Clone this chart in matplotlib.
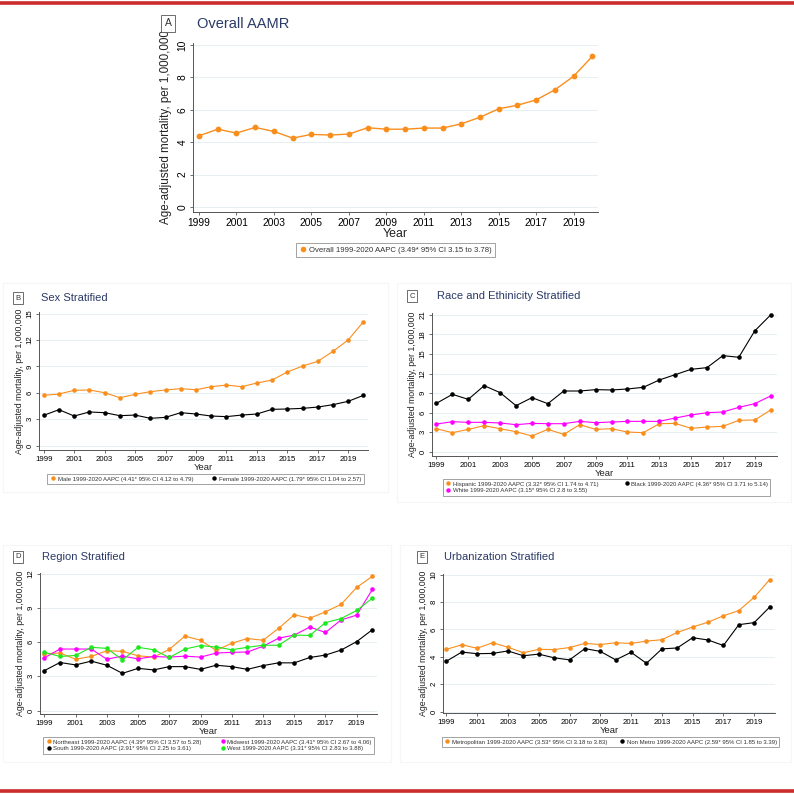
import numpy as np
import matplotlib.pyplot as plt
from matplotlib.patches import Rectangle
from matplotlib.lines import Line2D

plt.rcParams['font.family'] = ['Liberation Sans', 'DejaVu Sans']

years = np.arange(1999, 2021)

overall = [4.39, 4.80, 4.56, 4.91, 4.66, 4.25, 4.48, 4.44, 4.50, 4.89, 4.80,
           4.80, 4.87, 4.87, 5.13, 5.54, 6.06, 6.28, 6.61, 7.23, 8.07, 9.30]

male = [5.72, 5.87, 6.29, 6.33, 6.02, 5.45, 5.83, 6.14, 6.33, 6.48, 6.36,
        6.70, 6.89, 6.70, 7.12, 7.46, 8.37, 9.05, 9.58, 10.72, 12.01, 14.09]
female = [3.45, 4.09, 3.37, 3.83, 3.75, 3.41, 3.48, 3.11, 3.22, 3.75, 3.60,
          3.37, 3.30, 3.48, 3.60, 4.13, 4.17, 4.24, 4.39, 4.66, 5.04, 5.72]

hispanic = [3.53, 2.92, 3.43, 4.00, 3.53, 3.07, 2.41, 3.43, 2.66, 4.15, 3.43,
            3.53, 3.02, 2.92, 4.30, 4.35, 3.59, 3.79, 3.89, 4.82, 4.87, 6.40]
black = [7.43, 8.81, 8.04, 10.14, 9.07, 7.07, 8.30, 7.38, 9.32, 9.32, 9.53,
         9.48, 9.63, 9.89, 11.01, 11.83, 12.65, 12.91, 14.75, 14.50, 18.55, 21.0]
white = [4.25, 4.61, 4.51, 4.51, 4.41, 4.15, 4.35, 4.30, 4.30, 4.66, 4.46,
         4.56, 4.66, 4.66, 4.66, 5.17, 5.64, 5.99, 6.10, 6.81, 7.38, 8.56]

northeast = [4.98, 5.04, 4.50, 4.74, 5.24, 5.19, 4.80, 4.68, 5.36, 6.52, 6.16,
             5.27, 5.90, 6.31, 6.16, 7.20, 8.39, 8.09, 8.65, 9.30, 10.79, 11.76]
midwest = [4.62, 5.39, 5.39, 5.39, 4.50, 4.77, 4.53, 4.74, 4.68, 4.77, 4.68,
           5.04, 5.10, 5.13, 5.63, 6.34, 6.61, 7.32, 6.84, 7.94, 8.36, 10.61]
south = [3.50, 4.21, 4.00, 4.33, 3.97, 3.26, 3.70, 3.56, 3.85, 3.85, 3.61,
         3.97, 3.85, 3.61, 3.94, 4.18, 4.18, 4.65, 4.86, 5.30, 6.04, 7.08]
west = [5.10, 4.74, 4.83, 5.54, 5.45, 4.44, 5.54, 5.33, 4.65, 5.39, 5.69,
        5.57, 5.33, 5.54, 5.72, 5.72, 6.61, 6.58, 7.70, 8.06, 8.77, 9.84]

metro = [4.55, 4.88, 4.63, 5.03, 4.70, 4.30, 4.55, 4.53, 4.68, 4.98, 4.90,
         5.03, 4.98, 5.15, 5.25, 5.78, 6.18, 6.53, 7.00, 7.38, 8.35, 9.63]
nonmetro = [3.68, 4.35, 4.23, 4.25, 4.43, 4.08, 4.20, 3.93, 3.78, 4.60, 4.40,
            3.78, 4.33, 3.53, 4.58, 4.65, 5.40, 5.23, 4.83, 6.35, 6.50, 7.63]

ORANGE = '#F98E1D'
MAGENTA = '#FF00FF'
GREEN = '#1EE81E'
BLACK = '#000000'
NAVY = '#2B3A67'

W = H = 794.0
fig = plt.figure(figsize=(7.94, 7.94), dpi=100)


def fx(x):
    return x / W


def fy(y):
    return 1 - y / H


def make_axes(l, r, t, b):
    return fig.add_axes([fx(l), fy(b), fx(r) - fx(l), fy(t) - fy(b)])


def style(ax, yticks, ylim, xlim, tick_fs, lab_fs, ypad):
    ax.set_xlim(*xlim)
    ax.set_ylim(*ylim)
    ax.set_yticks(yticks)
    ax.set_xticks(np.arange(1999, 2021, 2))
    for s in ['top', 'right']:
        ax.spines[s].set_visible(False)
    for s in ['left', 'bottom']:
        ax.spines[s].set_color('#555555')
        ax.spines[s].set_linewidth(0.7)
    ax.grid(axis='y', color='#E6EFF1', linewidth=0.7)
    ax.set_axisbelow(True)
    ax.tick_params(axis='both', labelsize=tick_fs, length=2.5, width=0.6,
                   color='#555555', pad=1.5)
    plt.setp(ax.get_yticklabels(), rotation=90, va='center')
    ax.set_ylabel('Age-adjusted mortality, per 1,000,000', fontsize=lab_fs,
                  labelpad=ypad, color='#222222')
    ax.set_xlabel('Year', fontsize=lab_fs + 0.5, labelpad=0, color='#222222')


def header(letter, bx, by, fs):
    fig.text(fx(bx), fy(by), letter, fontsize=fs, va='center', ha='center',
             color='#333333',
             bbox=dict(boxstyle='square,pad=0.35', fc='white', ec='#555555', lw=0.6))


def title(text, tx, ty, fs):
    fig.text(fx(tx), fy(ty), text, fontsize=fs, va='center', ha='left', color=NAVY)


def plot_series(ax, data, color, ms, lw):
    ax.plot(years, data, color=color, lw=lw, marker='o', ms=ms,
            markeredgewidth=0, zorder=3)


def legend(ax, entries, cx, top, ncol, fs, ms, colsp):
    handles = [Line2D([], [], ls='none', marker='o', color=c, ms=ms,
                      markeredgewidth=0) for _, c in entries]
    labels = [t for t, _ in entries]
    leg = ax.legend(handles, labels, loc='upper center',
                    bbox_to_anchor=(fx(cx), fy(top)),
                    bbox_transform=fig.transFigure, ncol=ncol,
                    fontsize=fs, frameon=True, fancybox=False, borderpad=0.4,
                    handletextpad=0.2, handlelength=1.1, labelspacing=0.25,
                    columnspacing=colsp, borderaxespad=0)
    leg.get_frame().set_edgecolor('#777777')
    leg.get_frame().set_linewidth(0.6)
    for txt in leg.get_texts():
        txt.set_color('#333333')


# red rules top and bottom
fig.add_artist(Line2D([0, 1], [fy(2.5), fy(2.5)], color='#CC2B2B', lw=2.6))
fig.add_artist(Line2D([0, 1], [fy(791), fy(791)], color='#CC2B2B', lw=2.6))

# faint panel frames
for (l, t, r, b) in [(3, 283, 388, 492), (397, 283, 791, 502),
                     (3, 545, 391, 762), (400, 545, 791, 762)]:
    fig.add_artist(Rectangle((fx(l), fy(b)), fx(r) - fx(l), fy(t) - fy(b),
                             transform=fig.transFigure, fill=False,
                             ec='#F6F6F6', lw=0.8))

# Panel A
axA = make_axes(193, 598, 43, 212)
plot_series(axA, overall, ORANGE, 4.2, 1.0)
style(axA, [0, 2, 4, 6, 8, 10], (-0.31, 10.12), (1998.68, 2020.3), 7.4, 8.4, 4)
header('A', 168, 23.5, 7.5)
title('Overall AAMR', 197, 24.5, 10.5)
legend(axA, [('Overall 1999-2020 AAPC (3.49* 95% CI 3.15 to 3.78)', ORANGE)],
       395.5, 243, 1, 5.6, 4, 1.0)

# Panel B
axB = make_axes(39, 368, 312, 450)
plot_series(axB, male, ORANGE, 3.3, 0.8)
plot_series(axB, female, BLACK, 3.3, 0.8)
style(axB, [0, 3, 6, 9, 12, 15], (-0.49, 15.19), (1998.69, 2020.3), 5.6, 6.3, 2)
header('B', 18, 298, 5.5)
title('Sex Stratified', 41, 298, 8)
legend(axB, [('Male 1999-2020 AAPC (4.41* 95% CI 4.12 to 4.79)', ORANGE),
             ('Female 1999-2020 AAPC (1.79* 95% CI 1.04 to 2.57)', BLACK)],
       205.5, 474, 2, 4.3, 3.2, 3.0)

# Panel C
axC = make_axes(432, 777, 313, 456)
plot_series(axC, hispanic, ORANGE, 3.3, 0.8)
plot_series(axC, black, BLACK, 3.3, 0.8)
plot_series(axC, white, MAGENTA, 3.3, 0.8)
style(axC, [0, 3, 6, 9, 12, 15, 18, 21], (-0.66, 21.3), (1998.72, 2020.4), 5.6, 6.3, 2)
header('C', 412, 296, 5.5)
title('Race and Ethinicity Stratified', 437, 296, 8)
legend(axC, [('Hispanic 1999-2020 AAPC (3.32* 95% CI 1.74 to 4.71)', ORANGE),
             ('White 1999-2020 AAPC (3.15* 95% CI 2.8 to 3.55)', MAGENTA),
             ('Black 1999-2020 AAPC (4.36* 95% CI 3.71 to 5.14)', BLACK)],
       606.5, 479, 2, 4.3, 3.2, 4.2)

# Panel D
axD = make_axes(40, 377, 573, 714)
plot_series(axD, northeast, ORANGE, 3.3, 0.8)
plot_series(axD, midwest, MAGENTA, 3.3, 0.8)
plot_series(axD, west, GREEN, 3.3, 0.8)
plot_series(axD, south, BLACK, 3.3, 0.8)
style(axD, [0, 3, 6, 9, 12], (-0.3, 12.05), (1998.72, 2020.3), 5.6, 6.3, 2)
header('D', 18, 557, 5.5)
title('Region Stratified', 42, 557, 8)
legend(axD, [('Northeast 1999-2020 AAPC (4.39* 95% CI 3.57 to 5.28)', ORANGE),
             ('South 1999-2020 AAPC (2.91* 95% CI 2.25 to 3.61)', BLACK),
             ('Midwest 1999-2020 AAPC (3.41* 95% CI 2.67 to 4.06)', MAGENTA),
             ('West 1999-2020 AAPC (3.31* 95% CI 2.83 to 3.88)', GREEN)],
       208.5, 737, 2, 4.3, 3.2, 3.0)

# Panel E
axE = make_axes(443, 775, 574, 713)
plot_series(axE, metro, ORANGE, 3.3, 0.8)
plot_series(axE, nonmetro, BLACK, 3.3, 0.8)
style(axE, [0, 2, 4, 6, 8, 10], (-0.1, 10.05), (1998.78, 2020.35), 5.6, 6.3, 2)
header('E', 422, 557, 5.5)
title('Urbanization Stratified', 444, 557, 8)
legend(axE, [('Metropolitan 1999-2020 AAPC (3.53* 95% CI 3.18 to 3.83)', ORANGE),
             ('Non Metro 1999-2020 AAPC (2.59* 95% CI 1.85 to 3.39)', BLACK)],
       610.5, 737, 2, 4.3, 3.2, 2.0)

fig.savefig('out.png', dpi=100, facecolor='white')
